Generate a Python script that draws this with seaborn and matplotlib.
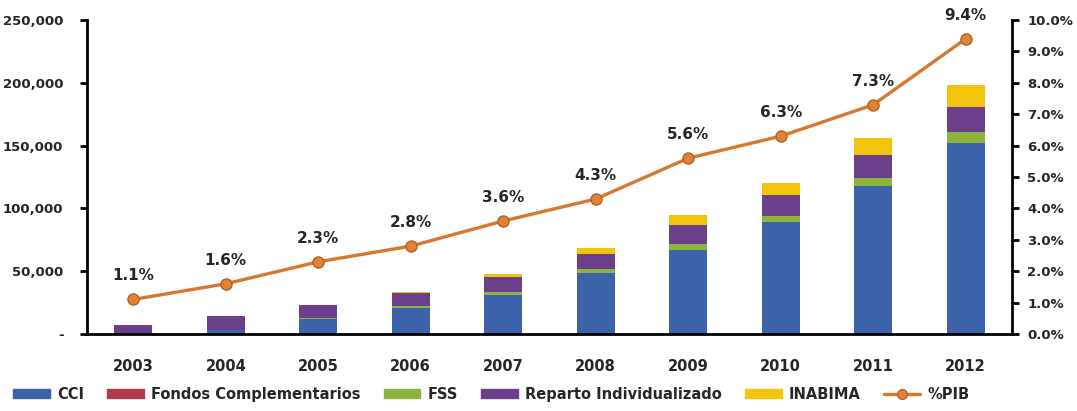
import numpy as np
import pandas as pd
import seaborn as sns
import matplotlib.pyplot as plt
from matplotlib.ticker import FuncFormatter
from matplotlib.lines import Line2D
from matplotlib.patches import Patch

years = ['2003', '2004', '2005', '2006', '2007', '2008', '2009', '2010', '2011', '2012']
cci = [500, 3000, 12000, 20500, 31000, 48500, 67000, 89000, 118000, 152000]
fondos = [0, 0, 0, 0, 0, 0, 0, 0, 0, 0]
fss = [0, 300, 800, 1500, 2500, 3000, 4500, 5000, 6500, 9000]
reparto = [6500, 11000, 10000, 11000, 12000, 12500, 15000, 17000, 18000, 20000]
inabima = [0, 0, 200, 500, 2300, 4500, 8200, 9000, 13500, 17000]
pib = [1.1, 1.6, 2.3, 2.8, 3.6, 4.3, 5.6, 6.3, 7.3, 9.4]

series = [('CCI', cci, '#3c63aa'),
          ('Fondos Complementarios', fondos, '#b03a4c'),
          ('FSS', fss, '#8db43c'),
          ('Reparto Individualizado', reparto, '#6b3f8c'),
          ('INABIMA', inabima, '#f2c40c')]
line_color = '#d8782e'

sns.set_style('white')
plt.rcParams['font.family'] = ['DejaVu Sans']
plt.rcParams['font.weight'] = 'bold'

fig = plt.figure(figsize=(10.77, 4.11), dpi=100)
ax = fig.add_axes([0.0808, 0.1873, 0.8588, 0.764])

# stacked bars: draw cumulative heights from the top layer down
df = pd.DataFrame({'year': years})
cum = np.zeros(len(years))
cums = []
for name, vals, col in series:
    cum = cum + np.array(vals)
    cums.append((name, cum.copy(), col))
for name, heights, col in reversed(cums):
    df['h'] = heights
    sns.barplot(data=df, x='year', y='h', color=col, width=0.41,
                saturation=1, ax=ax, edgecolor=col, linewidth=0)

ax.set_xlim(-0.5, len(years) - 0.5)
ax.set_ylim(0, 250000)
ax.set_yticks(np.arange(0, 250001, 50000))
ax.yaxis.set_major_formatter(FuncFormatter(lambda v, p: '-' if v == 0 else f'{int(v):,}'))
ax.set_xticks(np.arange(-0.5, len(years), 1), minor=False)
ax.set_xticklabels([])
ax.set_xticks(np.arange(len(years)), minor=True)
ax.set_xticklabels(years, minor=True)
ax.tick_params(axis='x', which='major', direction='out', length=6, width=2, color='black')
ax.tick_params(axis='x', which='minor', length=0, pad=18, labelsize=10.5)
ax.tick_params(axis='y', direction='out', length=5, width=2, color='black', labelsize=9.5, pad=12)
ax.set_xlabel('')
ax.set_ylabel('')
for s in ['top', 'right']:
    ax.spines[s].set_visible(False)
for s in ['left', 'bottom']:
    ax.spines[s].set_linewidth(2)
    ax.spines[s].set_color('black')

ax2 = ax.twinx()
x = np.arange(len(years))
sns.lineplot(x=x, y=pib, ax=ax2, color=line_color, linewidth=2.4, marker='o',
             markersize=8, markerfacecolor='#e0823a', markeredgecolor='#b8601e', markeredgewidth=1)
ax2.set_ylim(0, 10)
ax2.set_yticks(np.arange(0, 10.01, 1))
ax2.yaxis.set_major_formatter(FuncFormatter(lambda v, p: f'{v:.1f}%'))
ax2.tick_params(axis='y', direction='out', length=5, width=2, color='black', labelsize=9.5, pad=6)
for s in ['top', 'left', 'bottom']:
    ax2.spines[s].set_visible(False)
ax2.spines['right'].set_linewidth(2)
ax2.spines['right'].set_color('black')
for xi, v in zip(x, pib):
    ax2.annotate(f'{v:.1f}%', (xi, v), xytext=(0, 17), textcoords='offset points',
                 ha='center', va='center', fontsize=11, fontweight='bold', annotation_clip=False)

handles = [Patch(facecolor=col, edgecolor=col, label=name) for name, vals, col in series]
handles.append(Line2D([0], [0], color=line_color, lw=2.4, marker='o', markersize=7,
                      markerfacecolor='#e0823a', markeredgecolor='#b8601e', label='%PIB'))
fig.legend(handles=handles, loc='lower left', bbox_to_anchor=(0.0, -0.01), ncol=6,
           frameon=False, handlelength=2.5, handleheight=0.6,
           columnspacing=1.6, handletextpad=0.5, prop={'weight': 'bold', 'size': 10.5})

fig.savefig('out.png', dpi=100)
